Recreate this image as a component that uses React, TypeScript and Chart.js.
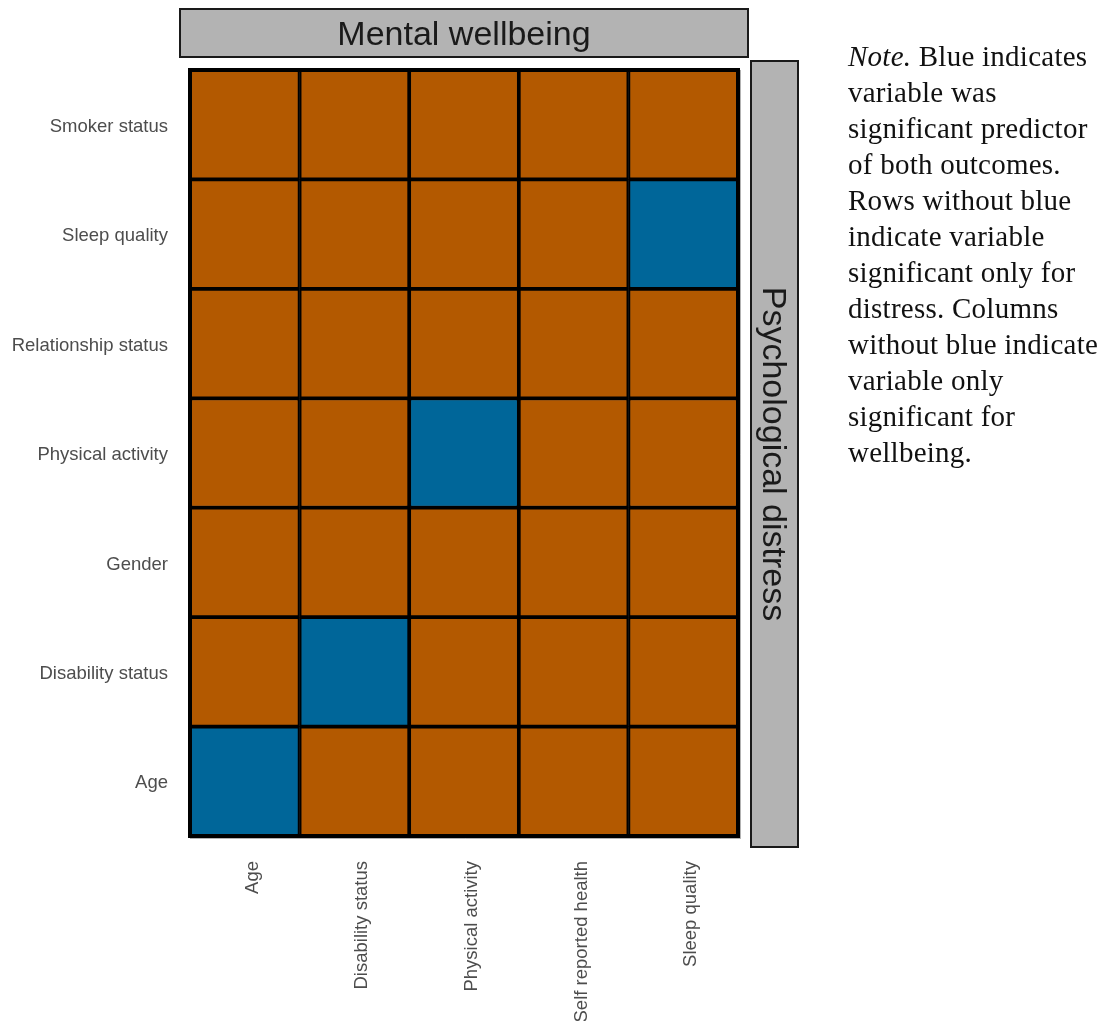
import React, { useEffect, useRef } from "react";
import { Chart, registerables } from "chart.js";

Chart.register(...registerables);

// Predictors of mental wellbeing (columns)
const wellbeingVars = ["Age", "Disability status", "Physical activity", "Self reported health", "Sleep quality"];
// Predictors of psychological distress (rows, bottom to top)
const distressVars = ["Age", "Disability status", "Gender", "Physical activity", "Relationship status", "Sleep quality", "Smoker status"];

// 1 = significant predictor of both outcomes, one array per distress row (bottom to top)
const rowAge = [1, 0, 0, 0, 0];
const rowDisability = [0, 1, 0, 0, 0];
const rowGender = [0, 0, 0, 0, 0];
const rowPhysical = [0, 0, 1, 0, 0];
const rowRelationship = [0, 0, 0, 0, 0];
const rowSleep = [0, 0, 0, 0, 1];
const rowSmoker = [0, 0, 0, 0, 0];
const bothFlags = [rowAge, rowDisability, rowGender, rowPhysical, rowRelationship, rowSleep, rowSmoker];

const ORANGE = "#b35900";
const BLUE = "#006699";

const W = 1110;
const H = 1021;

const noteLines = [
  ["Note.", " Blue indicates"],
  ["", "variable was"],
  ["", "significant predictor"],
  ["", "of both outcomes."],
  ["", "Rows without blue"],
  ["", "indicate variable"],
  ["", "significant only for"],
  ["", "distress. Columns"],
  ["", "without blue indicate"],
  ["", "variable only"],
  ["", "significant for"],
  ["", "wellbeing."],
];

const stripPlugin = {
  id: "facetStrips",
  afterDraw(chart: any) {
    const ctx = chart.ctx;
    const a = chart.chartArea;
    ctx.save();
    // soft shadow line along the bottom and right of the panel
    ctx.strokeStyle = "rgba(0,0,0,0.3)";
    ctx.lineWidth = 1;
    ctx.beginPath();
    ctx.moveTo(a.left, a.bottom + 2.5);
    ctx.lineTo(a.right + 2.5, a.bottom + 2.5);
    ctx.lineTo(a.right + 2.5, a.top);
    ctx.stroke();
    // panel outline
    ctx.strokeStyle = "#000000";
    ctx.lineWidth = 4;
    ctx.strokeRect(a.left, a.top, a.right - a.left, a.bottom - a.top);

    // top strip
    ctx.fillStyle = "#b3b3b3";
    ctx.fillRect(180, 9, 568, 48);
    ctx.strokeStyle = "#1a1a1a";
    ctx.lineWidth = 2;
    ctx.strokeRect(180, 9, 568, 48);
    ctx.fillStyle = "#1a1a1a";
    ctx.font = '34px "Liberation Sans", Arial, sans-serif';
    ctx.textAlign = "center";
    ctx.textBaseline = "middle";
    ctx.fillText("Mental wellbeing", 464, 36);

    // right strip
    ctx.fillStyle = "#b3b3b3";
    ctx.fillRect(751, 61, 47, 786);
    ctx.strokeStyle = "#1a1a1a";
    ctx.strokeRect(751, 61, 47, 786);
    ctx.translate(772, 454);
    ctx.rotate(Math.PI / 2);
    ctx.fillStyle = "#1a1a1a";
    ctx.fillText("Psychological distress", 0, 0);
    ctx.restore();
  },
};

export default function App() {
  const ref = useRef<HTMLCanvasElement | null>(null);

  useEffect(() => {
    if (!ref.current) return;
    const datasets = distressVars.map((name, r) => ({
      label: name,
      data: wellbeingVars.map(() => 1),
      backgroundColor: bothFlags[r].map((f) => (f ? BLUE : ORANGE)),
      borderColor: "#000000",
      borderWidth: 2.2,
      borderSkipped: false,
      barPercentage: 1,
      categoryPercentage: 1,
      stack: "grid",
    }));

    const chart = new Chart(ref.current, {
      type: "bar",
      data: { labels: wellbeingVars, datasets },
      options: {
        responsive: false,
        animation: false,
        events: [],
        layout: { padding: { left: 0, top: 70, right: W - 738, bottom: 0 } },
        plugins: { legend: { display: false }, tooltip: { enabled: false } },
        scales: {
          x: {
            stacked: true,
            grid: { display: false, drawTicks: false },
            border: { display: false },
            ticks: {
              autoSkip: false,
              minRotation: 90,
              maxRotation: 90,
              padding: 25,
              labelOffset: 8,
              color: "#4d4d4d",
              font: { family: '"Liberation Sans", Arial, sans-serif', size: 18.5 },
            },
            afterFit: (s: any) => {
              s.height = H - 836;
            },
          },
          y: {
            stacked: true,
            min: 0,
            max: distressVars.length,
            grid: { display: false, drawTicks: false },
            border: { display: false },
            afterBuildTicks: (s: any) => {
              s.ticks = distressVars.map((_, i) => ({ value: i + 0.5 }));
            },
            ticks: {
              padding: 22,
              labelOffset: 2,
              color: "#4d4d4d",
              font: { family: '"Liberation Sans", Arial, sans-serif', size: 18.5 },
              callback: (v: any) => distressVars[Math.floor(Number(v))],
            },
            afterFit: (s: any) => {
              s.width = 190;
            },
          },
        },
      },
      plugins: [stripPlugin],
    });
    return () => chart.destroy();
  }, []);

  return (
    <div style={{ position: "absolute", left: 0, top: 0, width: W, height: H, background: "#ffffff" }}>
      <canvas ref={ref} width={W} height={H} style={{ display: "block", width: W, height: H }} />
      <div
        style={{
          position: "absolute",
          left: 848,
          top: 38,
          fontFamily: '"Liberation Serif", "DejaVu Serif", serif',
          fontSize: 29,
          letterSpacing: "0.25px",
          lineHeight: "36px",
          color: "#111111",
          whiteSpace: "nowrap",
        }}
      >
        {noteLines.map(([it, rest], i) => (
          <div key={i}>
            {it ? <i>{it}</i> : null}
            {rest}
          </div>
        ))}
      </div>
    </div>
  );
}
